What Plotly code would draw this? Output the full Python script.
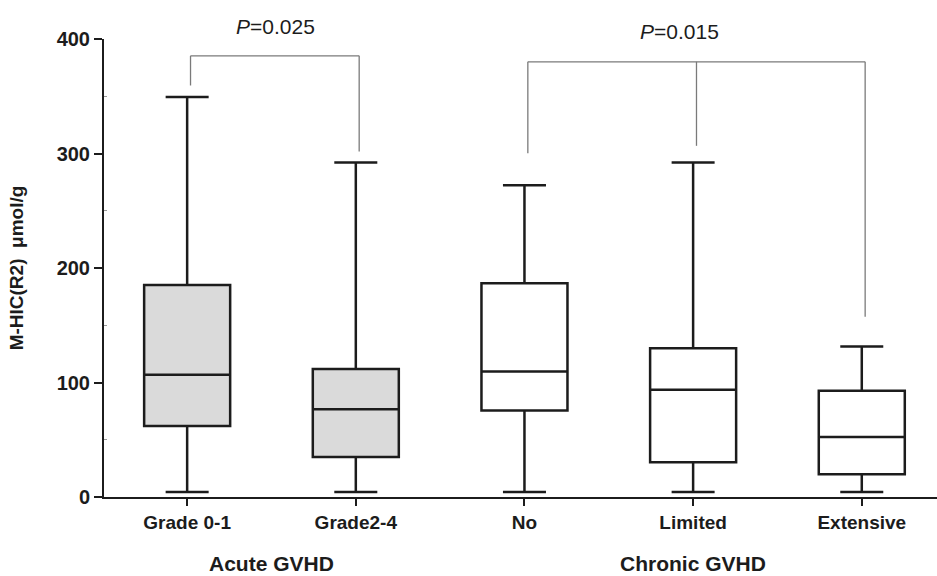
import plotly.graph_objects as go

# ---- data ----
categories = ["Grade 0-1", "Grade2-4", "No", "Limited", "Extensive"]
lower_whisker = [4.4, 4.4, 4.4, 4.4, 4.4]
q1_values = [62.1, 35.0, 75.5, 30.3, 19.9]
medians = [106.7, 76.7, 109.7, 93.6, 52.5]
q3_values = [185.1, 111.7, 186.6, 130.0, 92.7]
upper_whisker = [349.3, 292.1, 272.3, 292.1, 131.5]
shaded = [True, True, False, False, False]

group_labels = ["Acute GVHD", "Chronic GVHD"]
group_centers = [0.5, 3.0]

# significance brackets: (category indices, bracket level, leg bottoms, label)
bracket1_idx = [0, 1]
bracket1_level = 385.3
bracket1_bottoms = [359.4, 301.7]
bracket1_label = "<i>P</i>=0.025"

bracket2_idx = [2, 3, 4]
bracket2_level = 380.1
bracket2_bottoms = [300.3, 306.7, 157.4]
bracket2_label = "<i>P</i>=0.015"

FONT = "Liberation Sans, Arial, sans-serif"
INK = "#1c1c1c"
BR = "#7a7a7a"

fig = go.Figure()
for i, cat in enumerate(categories):
    fig.add_trace(go.Box(
        x=[cat],
        q1=[q1_values[i]], median=[medians[i]], q3=[q3_values[i]],
        lowerfence=[lower_whisker[i]], upperfence=[upper_whisker[i]],
        width=0.51, whiskerwidth=0.5,
        fillcolor="#dadada" if shaded[i] else "white",
        line=dict(color=INK, width=2.5),
        boxpoints=False, hoverinfo="skip", showlegend=False,
    ))

shapes = []
off = 0.02
# bracket 1
shapes.append(dict(type="line", xref="x", yref="y",
                   x0=bracket1_idx[0] + off, x1=bracket1_idx[-1] + off,
                   y0=bracket1_level, y1=bracket1_level,
                   line=dict(color=BR, width=1.3)))
for k, b in zip(bracket1_idx, bracket1_bottoms):
    shapes.append(dict(type="line", xref="x", yref="y", x0=k + off, x1=k + off,
                       y0=bracket1_level, y1=b, line=dict(color=BR, width=1.3)))
# bracket 2
shapes.append(dict(type="line", xref="x", yref="y",
                   x0=bracket2_idx[0] + off, x1=bracket2_idx[-1] + off,
                   y0=bracket2_level, y1=bracket2_level,
                   line=dict(color=BR, width=1.3)))
for k, b in zip(bracket2_idx, bracket2_bottoms):
    shapes.append(dict(type="line", xref="x", yref="y", x0=k + off, x1=k + off,
                       y0=bracket2_level, y1=b, line=dict(color=BR, width=1.3)))

annotations = [
    dict(text=bracket1_label, xref="x", yref="paper", x=0.522, y=1.028,
         showarrow=False, font=dict(family=FONT, size=21, color=INK),
         xanchor="center", yanchor="middle"),
    dict(text=bracket2_label, xref="x", yref="paper", x=2.919, y=1.016,
         showarrow=False, font=dict(family=FONT, size=21, color=INK),
         xanchor="center", yanchor="middle"),
]
for lab, xc in zip(group_labels, group_centers):
    annotations.append(dict(text=lab, xref="x", yref="paper", x=xc, y=-0.146,
                            showarrow=False, xanchor="center", yanchor="middle",
                            font=dict(family=FONT, size=21, color=INK, weight="bold")))

fig.update_layout(
    width=937, height=576,
    margin=dict(l=104, r=0, t=39, b=79, autoexpand=False),
    paper_bgcolor="white", plot_bgcolor="white",
    boxmode="overlay",
    shapes=shapes, annotations=annotations,
    font=dict(family=FONT, color=INK),
)
fig.update_xaxes(
    type="category", categoryorder="array", categoryarray=categories,
    range=[-0.493, 4.446],
    showline=True, linewidth=2, linecolor=INK,
    ticks="outside", ticklen=7, tickwidth=2, tickcolor=INK,
    tickfont=dict(family=FONT, size=19, color=INK, weight="bold"),
    showgrid=False, zeroline=False,
)
fig.update_yaxes(
    range=[0, 400], tickvals=[0, 100, 200, 300, 400],
    showline=True, linewidth=2, linecolor=INK,
    ticks="outside", ticklen=8, tickwidth=2, tickcolor=INK,
    tickfont=dict(family=FONT, size=20, color=INK, weight="bold"),
    minor=dict(tickvals=[50, 150, 250, 350], ticks="inside", ticklen=3,
               tickwidth=1, tickcolor="#999999"),
    showgrid=False, zeroline=False,
    title=dict(text="M-HIC(R2)  μmol/g", standoff=28,
               font=dict(family=FONT, size=19, color=INK, weight="bold")),
)

fig.write_html("out.html", config={"displayModeBar": False},
               post_script="document.body.style.margin='0';document.body.style.overflow='hidden';")
